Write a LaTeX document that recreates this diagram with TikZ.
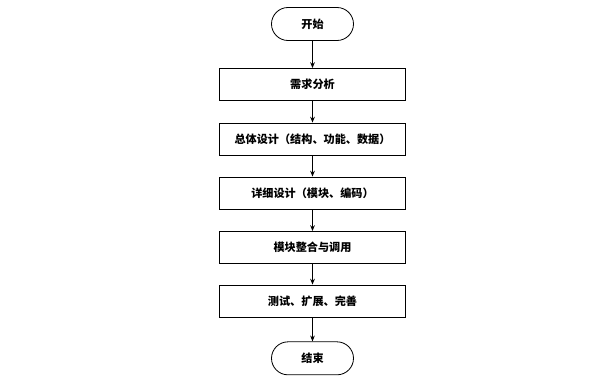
\documentclass[tikz,border=0pt]{standalone}
\usepackage{fontspec}
\newfontfamily\cjk{Noto Sans CJK SC}
\usepackage{tikz}
\usetikzlibrary{positioning,shapes.misc,arrows.meta}

\begin{document}
\begin{tikzpicture}[font=\cjk\bfseries\fontsize{9.5pt}{11pt}\selectfont, >={Stealth[length=5pt,width=4pt]},
    line width=0.7pt,
    stepbox/.style={draw, minimum width=5.58cm, minimum height=0.96cm, inner sep=0pt},
    terminal/.style={draw, rounded rectangle, minimum width=2.46cm, minimum height=0.99cm, inner sep=0pt}]
    \useasboundingbox (0,0) rectangle (18.09,-11.46);
    \node[terminal] (start) at (9.375,-0.72) {开始};
    \node[stepbox] (req) at (9.375,-2.535) {需求分析};
    \node[stepbox] (arch) at (9.375,-4.17) {总体设计（结构、功能、数据）};
    \node[stepbox] (detail) at (9.375,-5.79) {详细设计（模块、编码）};
    \node[stepbox] (integ) at (9.375,-7.425) {模块整合与调用};
    \node[stepbox] (test) at (9.375,-9.03) {测试、扩展、完善};
    \node[terminal] (stop) at (9.375,-10.75) {结束};
    % arrows down the chain
    \draw[->] (start) -- (req);
    \draw[->] (req) -- (arch);
    \draw[->] (arch) -- (detail);
    \draw[->] (detail) -- (integ);
    \draw[->] (integ) -- (test);
    \draw[->] (test) -- (stop);
  \end{tikzpicture}
\end{document}
